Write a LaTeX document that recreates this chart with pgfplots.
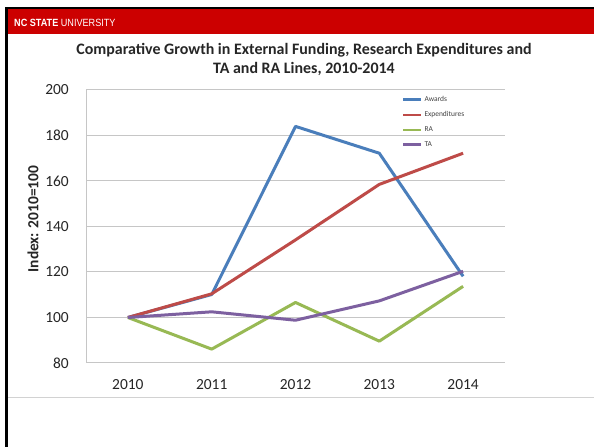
\documentclass[border=0pt]{standalone}
\usepackage{pgfplots}
\pgfplotsset{compat=1.18}
\usepackage{fontspec}
\setmainfont{Carlito}
\newfontfamily\hdrfont{Liberation Sans}
\definecolor{ncred}{HTML}{CC0000}
\definecolor{cAw}{HTML}{4A7EBB}
\definecolor{cEx}{HTML}{BE4B48}
\definecolor{cRA}{HTML}{98B954}
\definecolor{cTA}{HTML}{7D60A0}
\definecolor{txt}{HTML}{262626}
\begin{document}
\begin{tikzpicture}[x=1bp,y=1bp]
\useasboundingbox[fill=white] (0,0) rectangle (594,447);
% header
\fill[black] (5,437) rectangle (594,440);
\fill[ncred] (7,413) rectangle (594,437.5);
\fill[black] (5,0) rectangle (8,440);
\node[anchor=west, text=white, inner sep=0pt] at (14,424.5) {\scalebox{0.87}[1]{\hdrfont\fontsize{10.5}{12}\selectfont\textbf{NC STATE} UNIVERSITY}};
% bottom separator
\draw[gray!35, line width=1.5bp] (8,49.5) -- (594,49.5);
% title
\node[text=txt, align=center, font=\fontsize{16}{19}\selectfont\bfseries] at (304,387.5) {Comparative Growth in External Funding, Research Expenditures and\\TA and RA Lines, 2010-2014};
% y label
\node[rotate=90, text=txt, font=\fontsize{15.5}{16}\selectfont\bfseries] at (33,228) {Index: 2010=100};
\begin{axis}[
  at={(86bp,84bp)}, anchor=south west, scale only axis,
  width=419bp, height=273bp,
  xmin=2009.5, xmax=2014.5, ymin=80, ymax=200,
  xtick={2010,2011,2012,2013,2014},
  ytick={80,100,...,200},
  xticklabels={2010,2011,2012,2013,2014},
  axis x line=bottom, axis y line=left,
  axis line style={-, draw=gray!45, line width=1bp},
  ymajorgrids, grid style={gray!45, line width=1bp},
  major tick length=0pt,
  /pgf/number format/assume math mode=true,
  tick label style={font=\fontsize{15.5}{17}\selectfont, text=txt},
  yticklabel style={anchor=east, inner sep=0pt, xshift=-17bp},
  xticklabel style={anchor=north, inner sep=0pt, yshift=-16bp},
  clip=false,
  legend style={at={(rel axis cs:0.754,0.985)}, anchor=north west, draw=none, fill=none,
    font=\fontsize{7.5}{8}\selectfont, text=black!75, row sep=4.5bp, inner sep=0pt},
  legend cell align=left,
  legend image code/.code={\draw[#1, line width=2.4bp] (0bp,0bp) -- (18bp,0bp);},
  every axis plot/.append style={line width=3bp, line join=round},
]
\addplot[cAw] coordinates {(2010,100) (2011,110.1) (2012,184.0) (2013,172.2) (2014,118.1)};
\addlegendentry{Awards}
\addplot[cEx] coordinates {(2010,100) (2011,110.4) (2012,134.1) (2013,158.5) (2014,172.2)};
\addlegendentry{Expenditures}
\addplot[cRA] coordinates {(2010,100) (2011,86.1) (2012,106.6) (2013,89.6) (2014,113.7)};
\addlegendentry{RA}
\addplot[cTA] coordinates {(2010,100) (2011,102.5) (2012,98.8) (2013,107.3) (2014,120.3)};
\addlegendentry{TA}
\end{axis}
\end{tikzpicture}
\end{document}
